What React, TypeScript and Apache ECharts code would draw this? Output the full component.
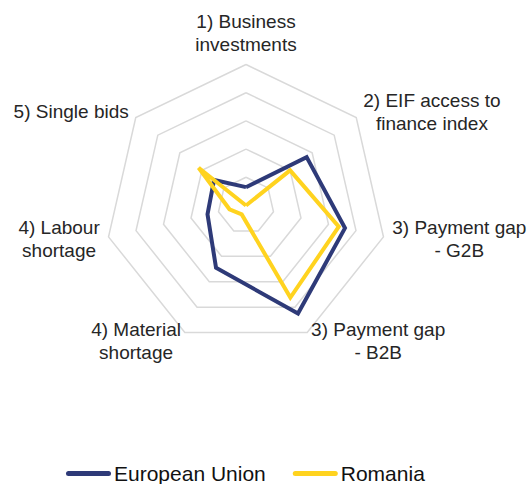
import React, { useEffect, useRef } from "react";
import * as echarts from "echarts";

const indicatorNames = [
  "1) Business\ninvestments",
  "2) EIF access to\nfinance index",
  "3) Payment gap\n- G2B",
  "3) Payment gap\n- B2B",
  "4) Material\nshortage",
  "4) Labour\nshortage",
  "5) Single bids",
];
const euValues = [0.13, 0.55, 0.72, 0.85, 0.49, 0.28, 0.29];
const roValues = [0.0, 0.4, 0.675, 0.725, 0.07, 0.12, 0.43];
const seriesNames = ["European Union", "Romania"];
const seriesColors = ["#2E3A78", "#FFD31F"];

const FONT = "'Liberation Sans', Arial, sans-serif";

// ECharts radar lays indicators out counter-clockwise; reorder so they run clockwise
const clockwise = <T,>(arr: T[]): T[] => [arr[0], ...arr.slice(1).reverse()];

export default function App() {
  const ref = useRef<HTMLDivElement>(null);
  useEffect(() => {
    if (!ref.current) return;
    const chart = echarts.init(ref.current, undefined, { renderer: "svg" });
    const pill = "path://M2.5,0 L42.5,0 A2.5,2.5 0 0 1 42.5,5 L2.5,5 A2.5,2.5 0 0 1 2.5,0 Z";
    chart.setOption({
      animation: false,
      backgroundColor: "#ffffff",
      legend: {
        left: 66,
        top: 463,
        itemWidth: 45,
        itemHeight: 5,
        itemGap: 27,
        padding: 0,
        textStyle: { fontSize: 21, color: "#111", fontFamily: FONT, padding: [0, 0, 0, -2] },
        data: seriesNames.map((n) => ({ name: n, icon: pill })),
      },
      radar: {
        center: [246, 205.5],
        radius: 141,
        startAngle: 90,
        shape: "polygon",
        splitNumber: 5,
        nameGap: 9,
        axisName: {
          color: "#262626",
          fontSize: 19,
          fontFamily: FONT,
          formatter: (name: string) =>
            name
              .split("\n")
              .map((l) => `{c|${l}}`)
              .join("\n"),
          rich: {
            c: { align: "center", fontSize: 19, lineHeight: 23, color: "#262626", fontFamily: FONT },
          },
        },
        axisLine: { show: false },
        axisTick: { show: false },
        axisLabel: { show: false },
        splitArea: { show: false },
        splitLine: { lineStyle: { color: "#d9d9d9", width: 1.5 } },
        indicator: clockwise(indicatorNames).map((n) => ({ name: n, min: 0, max: 1 })),
      },
      series: [
        {
          type: "radar",
          symbol: "none",
          data: [
            {
              name: seriesNames[0],
              value: clockwise(euValues),
              lineStyle: { color: seriesColors[0], width: 4, join: "miter" },
              itemStyle: { color: seriesColors[0] },
            },
            {
              name: seriesNames[1],
              value: clockwise(roValues),
              lineStyle: { color: seriesColors[1], width: 4, join: "miter" },
              itemStyle: { color: seriesColors[1] },
            },
          ],
        },
      ],
    });
    return () => chart.dispose();
  }, []);
  return (
    <div
      ref={ref}
      style={{ position: "fixed", left: 0, top: 0, width: 531, height: 484 }}
    />
  );
}
